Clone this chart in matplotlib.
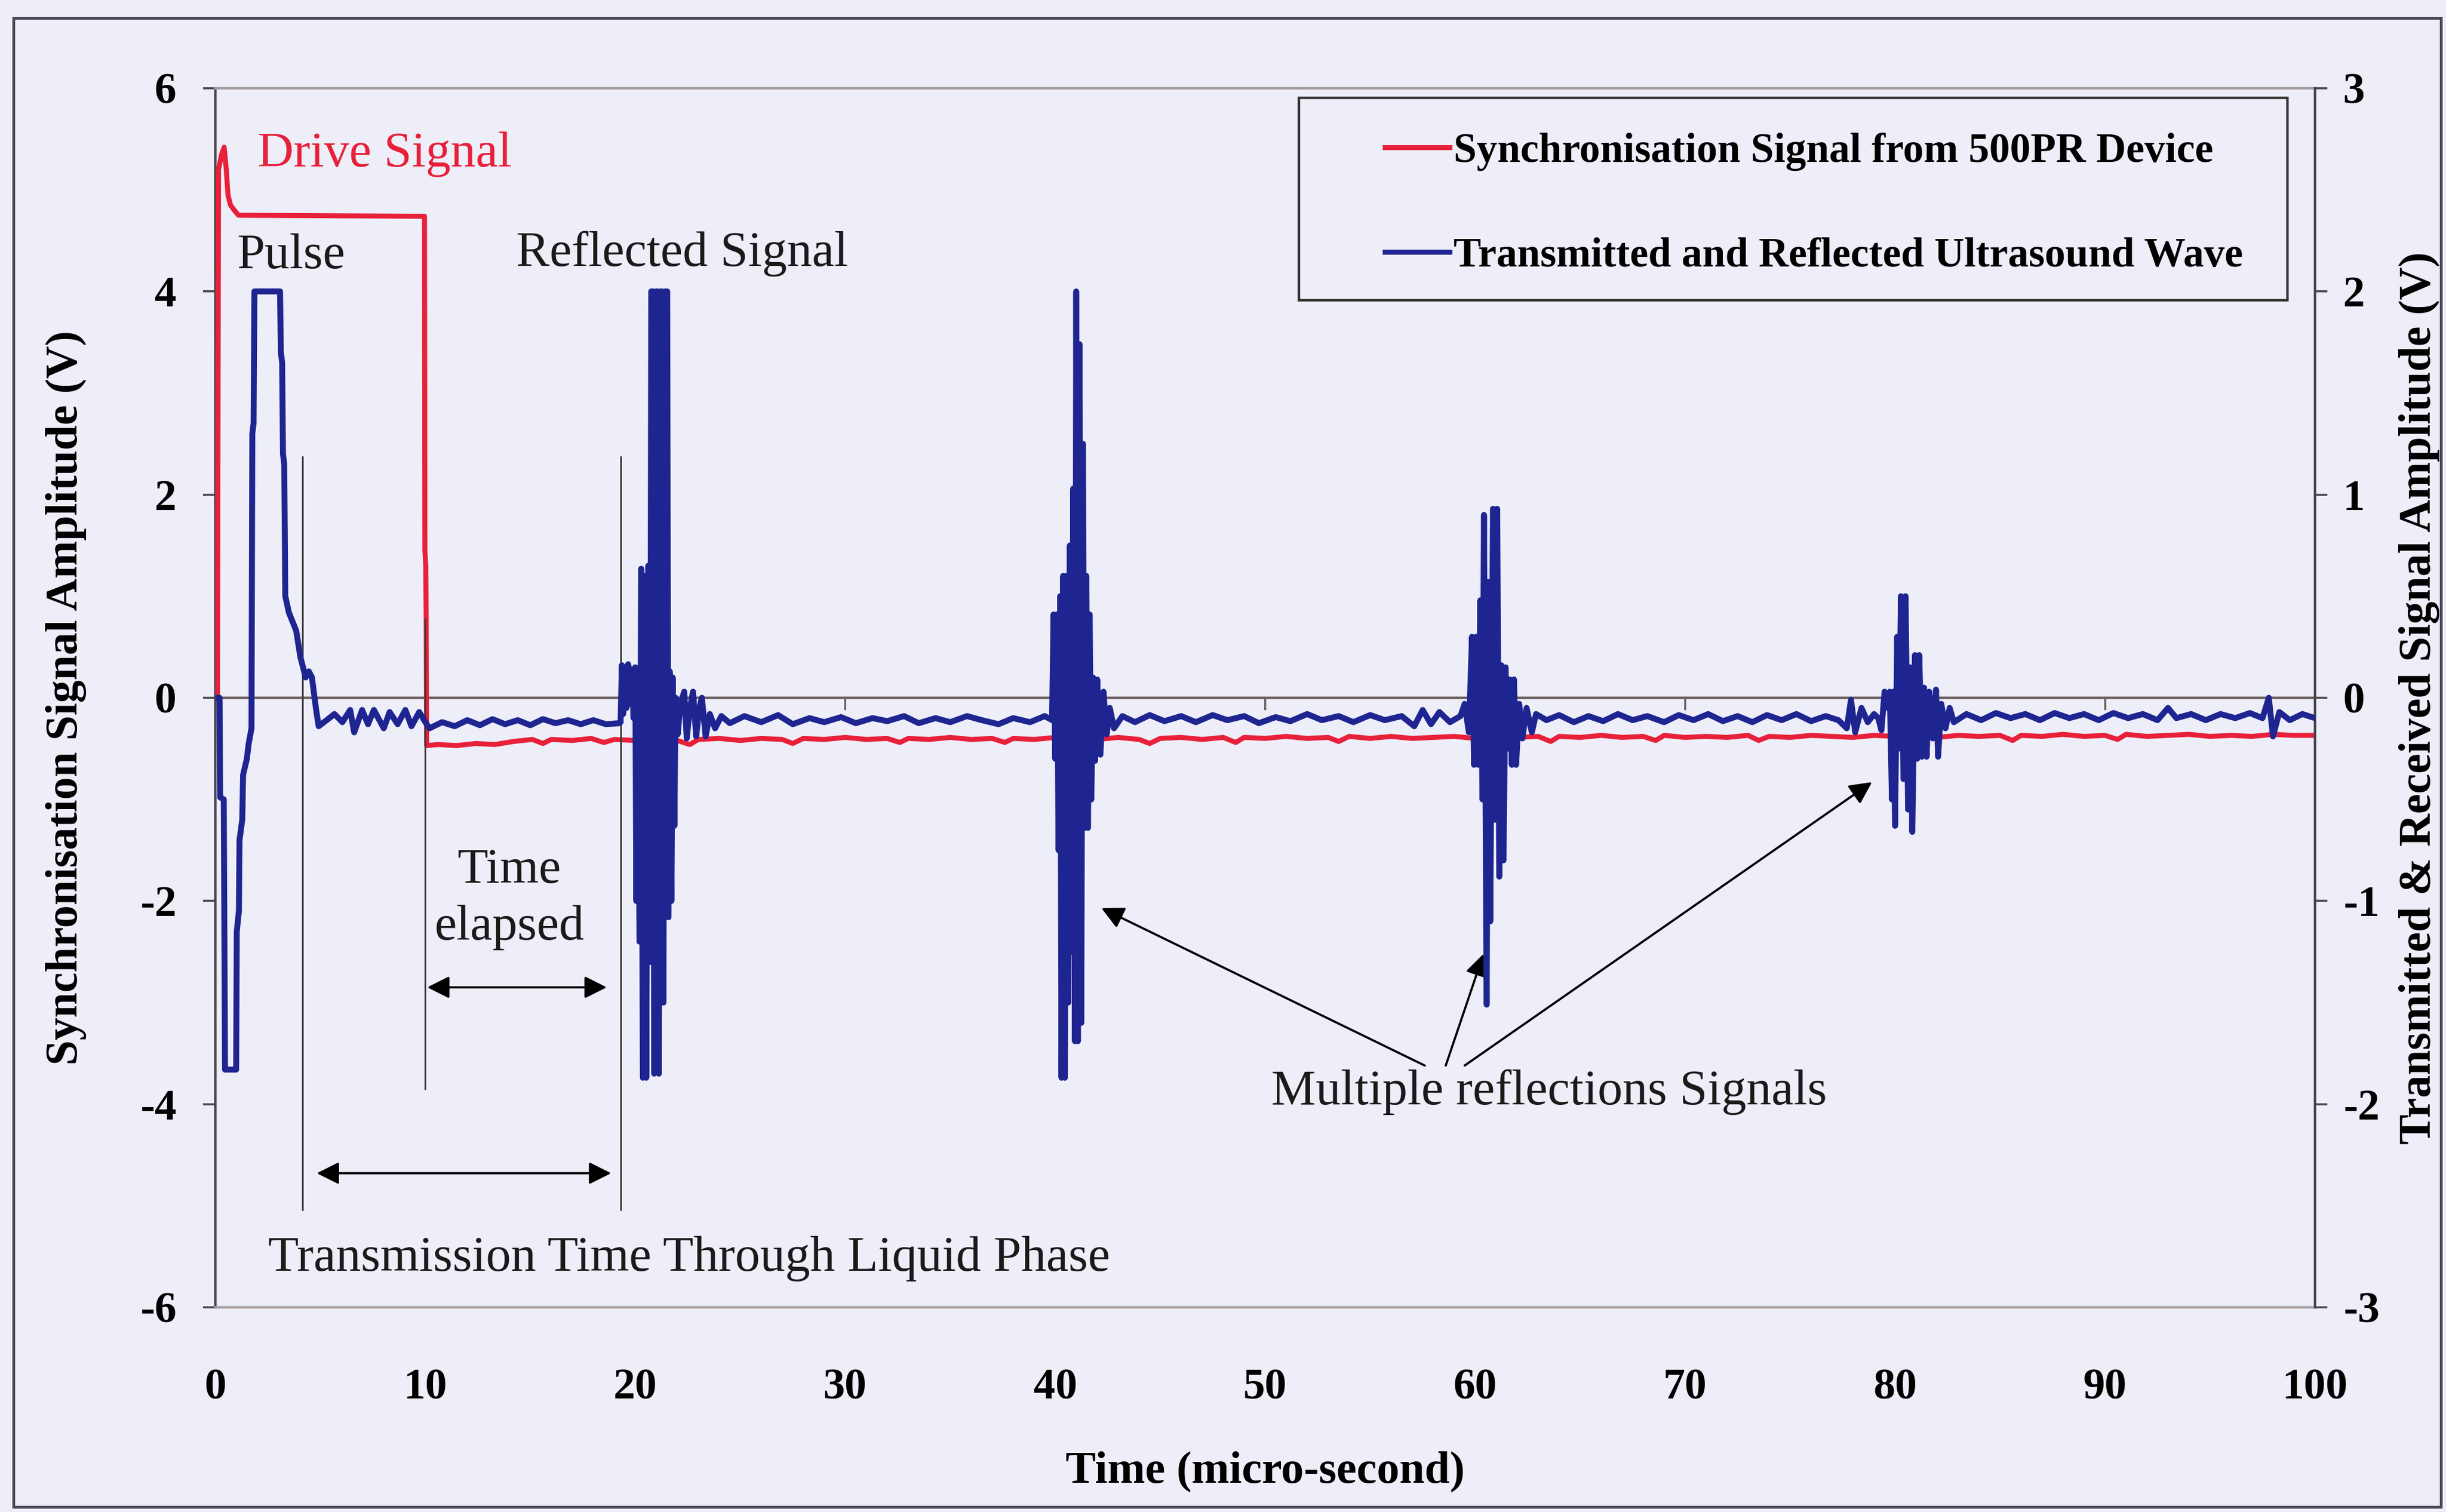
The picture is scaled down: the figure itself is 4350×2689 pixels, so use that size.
import numpy as np
import matplotlib
matplotlib.use("Agg")
import matplotlib.pyplot as plt
from matplotlib.patches import Rectangle
from matplotlib.lines import Line2D

plt.rcParams['font.family'] = ['Liberation Serif', 'DejaVu Serif']
plt.rcParams['axes.unicode_minus'] = False

BG = '#EDEEF8'
RED = '#E8203A'
NAVY = '#1F2590'
DARK = '#4A4650'
GREY = '#A89E9E'
ZERO = '#6E5F5F'

# ---------------- axes ----------------
x_ticks = [0, 10, 20, 30, 40, 50, 60, 70, 80, 90, 100]
x_tick_labels = ['0', '10', '20', '30', '40', '50', '60', '70', '80', '90', '100']
left_ticks = [-6, -4, -2, 0, 2, 4, 6]
left_tick_labels = ['-6', '-4', '-2', '0', '2', '4', '6']
right_ticks = [-3, -2, -1, 0, 1, 2, 3]
right_tick_labels = ['-3', '-2', '-1', '0', '1', '2', '3']

# ---------------- synchronisation signal (V, left axis) ----------------
sync_t = [0.0, 0.10, 0.15, 0.30, 0.42, 0.52, 0.60, 0.72, 0.90, 1.10, 9.96, 9.98, 10.02, 10.04, 10.06,
          10.6, 11.5, 12.4, 13.3, 14.2, 15.1, 15.6, 16.0, 17.0, 17.9, 18.5, 19.0, 20.0, 21.0, 22.0,
          22.6, 23.0, 24.0, 25.0, 26.0, 27.0, 27.5, 28.0, 29.0, 30.0, 31.0, 32.0, 32.6, 33.0, 34.0,
          35.0, 36.0, 37.0, 37.6, 38.0, 39.0, 40.0, 41.0, 42.0, 43.0, 44.0, 44.5, 45.0, 46.0, 47.0,
          48.0, 48.6, 49.0, 50.0, 51.0, 52.0, 53.0, 53.5, 54.0, 55.0, 56.0, 57.0, 58.0, 59.0, 60.0,
          61.0, 62.0, 63.0, 63.6, 64.0, 65.0, 66.0, 67.0, 68.0, 68.6, 69.0, 70.0, 71.0, 72.0, 73.0,
          73.5, 74.0, 75.0, 76.0, 77.0, 78.0, 79.0, 80.0, 81.0, 82.0, 83.0, 84.0, 85.0, 85.6, 86.0,
          87.0, 88.0, 89.0, 90.0, 90.6, 91.0, 92.0, 93.0, 94.0, 95.0, 96.0, 97.0, 98.0, 99.0, 100.0]
sync_v = [0.0, 0.0, 5.20, 5.35, 5.42, 5.20, 4.95, 4.85, 4.80, 4.75, 4.74, 1.45, 1.30, 0.80, -0.47,
          -0.46, -0.47, -0.45, -0.46, -0.43, -0.41, -0.45, -0.41, -0.42, -0.40, -0.44, -0.41, -0.42, -0.40, -0.42,
          -0.46, -0.41, -0.40, -0.42, -0.40, -0.41, -0.45, -0.40, -0.41, -0.39, -0.41, -0.40, -0.44, -0.40, -0.41,
          -0.39, -0.41, -0.40, -0.44, -0.40, -0.41, -0.39, -0.40, -0.41, -0.39, -0.41, -0.45, -0.40, -0.39, -0.41,
          -0.39, -0.44, -0.39, -0.40, -0.38, -0.40, -0.39, -0.43, -0.38, -0.40, -0.38, -0.40, -0.39, -0.38, -0.40,
          -0.38, -0.39, -0.38, -0.43, -0.38, -0.39, -0.37, -0.39, -0.38, -0.42, -0.37, -0.39, -0.38, -0.39, -0.37,
          -0.42, -0.38, -0.39, -0.37, -0.38, -0.39, -0.37, -0.38, -0.37, -0.39, -0.37, -0.38, -0.37, -0.42, -0.37,
          -0.38, -0.36, -0.38, -0.37, -0.41, -0.36, -0.38, -0.37, -0.36, -0.38, -0.37, -0.38, -0.36, -0.37, -0.37]

# ---------------- ultrasound trace (V, right axis) ----------------
excitation_t = [0.00, 0.20, 0.23, 0.40, 0.46, 0.99, 1.02, 1.12, 1.15, 1.28, 1.32, 1.50, 1.58, 1.72,
                1.76, 1.82, 1.86, 3.08, 3.12, 3.18, 3.22, 3.28, 3.33, 3.50, 3.85, 4.05, 4.30, 4.45,
                4.60, 4.80, 4.92, 5.30, 5.67, 6.05, 6.42, 6.61, 6.99, 7.27, 7.55, 8.02, 8.30, 8.68,
                9.05, 9.34, 9.71, 10.00]
excitation_v = [0.0, 0.0, -0.49, -0.50, -1.83, -1.83, -1.15, -1.05, -0.70, -0.60, -0.38, -0.30, -0.23, -0.15,
                1.30, 1.35, 2.00, 2.00, 1.70, 1.65, 1.20, 1.15, 0.50, 0.42, 0.33, 0.20, 0.10, 0.13,
                0.10, -0.06, -0.14, -0.11, -0.08, -0.12, -0.06, -0.17, -0.06, -0.13, -0.06, -0.15, -0.07, -0.13,
                -0.06, -0.14, -0.07, -0.12]

quiet_a_t = [10.20, 10.80, 11.40, 12.00, 12.60, 13.20, 13.80, 14.40, 15.00, 15.60, 16.20, 16.80,
             17.40, 18.00, 18.60, 19.25]
quiet_a_v = [-0.15, -0.12, -0.14, -0.11, -0.135, -0.105, -0.13, -0.11, -0.135, -0.105, -0.125, -0.11,
             -0.13, -0.11, -0.13, -0.125]

echo1_t = [19.30, 19.36, 19.42, 19.50, 19.58, 19.66, 19.74, 19.82, 19.92, 20.00, 20.05, 20.12, 20.20,
           20.28, 20.36, 20.44, 20.52, 20.62, 20.70, 20.76, 20.84, 20.90, 20.98, 21.06, 21.12, 21.20,
           21.28, 21.34, 21.42, 21.52, 21.58, 21.64, 21.72, 21.78, 21.86, 21.92, 22.02, 22.15, 22.33,
           22.45, 22.60, 22.75, 22.90, 23.05, 23.17, 23.35, 23.55, 23.80, 24.10]
echo1_v = [-0.12, 0.16, -0.08, 0.15, -0.05, 0.165, -0.03, 0.14, -0.10, 0.15, -1.00, 0.12, -1.20,
           0.635, -1.87, 0.60, -1.87, 0.65, -1.30, 2.00, 2.00, -1.85, 2.00, 2.00, -1.85, 2.00,
           2.00, -1.50, 2.00, 2.00, -1.08, 0.13, -1.00, 0.10, -0.63, 0.00, -0.18, -0.03, 0.03,
           -0.20, -0.05, 0.03, -0.19, -0.05, 0.00, -0.19, -0.08, -0.15, -0.09]

quiet_b_t = [24.50, 25.20, 26.00, 26.80, 27.50, 28.30, 29.00, 29.80, 30.50, 31.30, 32.00, 32.80,
             33.50, 34.30, 35.00, 35.80, 36.50, 37.30, 38.00, 38.80, 39.50, 39.85]
quiet_b_v = [-0.125, -0.09, -0.12, -0.085, -0.13, -0.10, -0.12, -0.095, -0.125, -0.10, -0.115, -0.09,
             -0.125, -0.10, -0.12, -0.09, -0.11, -0.13, -0.10, -0.12, -0.09, -0.11]

echo2_t = [39.92, 40.00, 40.08, 40.16, 40.24, 40.30, 40.38, 40.46, 40.54, 40.62, 40.70, 40.78,
           40.86, 40.94, 41.00, 41.08, 41.16, 41.24, 41.32, 41.40, 41.48, 41.56, 41.64, 41.72,
           41.80, 41.90, 42.00, 42.15, 42.30, 42.45, 42.60, 42.80]
echo2_v = [0.41, -0.30, 0.41, -0.75, 0.50, -1.87, 0.60, -1.87, 0.60, -1.50, 0.75, -1.25,
           1.03, -1.69, 2.00, -1.69, 1.74, -1.60, 1.25, -0.64, 0.60, -0.64, 0.41, -0.50,
           0.10, -0.31, 0.09, -0.28, 0.03, -0.18, -0.05, -0.15]

quiet_c_t = [43.20, 43.80, 44.50, 45.20, 46.00, 46.70, 47.50, 48.20, 49.00, 49.70, 50.50, 51.20,
             52.00, 52.70, 53.50, 54.20, 55.00, 55.70, 56.50, 57.10, 57.50, 57.90, 58.30, 58.80, 59.30]
quiet_c_v = [-0.09, -0.12, -0.085, -0.115, -0.09, -0.12, -0.085, -0.11, -0.09, -0.125, -0.095, -0.115,
             -0.08, -0.11, -0.09, -0.12, -0.085, -0.11, -0.09, -0.14, -0.06, -0.13, -0.07, -0.12, -0.09]

echo3_t = [59.50, 59.70, 59.85, 59.95, 60.05, 60.15, 60.25, 60.35, 60.42, 60.55, 60.62, 60.72,
           60.85, 60.95, 61.05, 61.15, 61.25, 61.35, 61.45, 61.55, 61.65, 61.75, 61.85, 61.95,
           62.10, 62.25, 62.45, 62.70, 62.90]
echo3_v = [-0.03, -0.17, 0.30, -0.33, 0.30, -0.33, 0.48, -0.50, 0.90, -1.51, 0.57, -1.10,
           0.93, -0.60, 0.93, -0.88, 0.16, -0.80, 0.15, -0.25, 0.09, -0.33, 0.09, -0.33,
           -0.03, -0.20, -0.05, -0.17, -0.08]

quiet_d_t = [63.40, 64.00, 64.70, 65.40, 66.10, 66.80, 67.50, 68.20, 69.00, 69.70, 70.40, 71.10,
             71.80, 72.50, 73.20, 73.90, 74.60, 75.30, 76.00, 76.70, 77.30, 77.70, 77.90, 78.10,
             78.40, 78.70, 79.00]
quiet_d_v = [-0.11, -0.085, -0.12, -0.09, -0.115, -0.08, -0.11, -0.09, -0.12, -0.085, -0.11, -0.08,
             -0.115, -0.09, -0.12, -0.085, -0.11, -0.08, -0.115, -0.09, -0.11, -0.15, -0.01, -0.17,
             -0.05, -0.12, -0.08]

echo4_t = [79.20, 79.35, 79.50, 79.65, 79.75, 79.85, 79.92, 80.00, 80.10, 80.18, 80.28, 80.40,
           80.50, 80.62, 80.72, 80.82, 80.95, 81.05, 81.15, 81.28, 81.38, 81.50, 81.62, 81.80,
           81.95, 82.05, 82.20, 82.40, 82.60, 82.80]
echo4_v = [-0.10, -0.16, 0.03, -0.05, 0.03, -0.50, 0.03, -0.63, 0.30, -0.25, 0.50, -0.40,
           0.50, -0.55, 0.15, -0.66, 0.21, -0.30, 0.21, -0.29, 0.05, -0.29, 0.03, -0.20,
           0.04, -0.29, -0.03, -0.15, -0.05, -0.12]

quiet_e_t = [83.40, 84.10, 84.80, 85.50, 86.20, 86.90, 87.60, 88.30, 89.00, 89.70, 90.40, 91.10,
             91.80, 92.50, 93.00, 93.40, 94.10, 94.80, 95.50, 96.20, 96.90, 97.50, 97.80, 98.00,
             98.30, 98.80, 99.40, 100.00]
quiet_e_v = [-0.08, -0.11, -0.075, -0.10, -0.08, -0.11, -0.075, -0.10, -0.08, -0.11, -0.075, -0.10,
             -0.08, -0.11, -0.05, -0.10, -0.08, -0.11, -0.08, -0.10, -0.075, -0.10, 0.0, -0.19,
             -0.07, -0.11, -0.08, -0.10]

wave_t = np.concatenate([excitation_t, quiet_a_t, echo1_t, quiet_b_t, echo2_t,
                         quiet_c_t, echo3_t, quiet_d_t, echo4_t, quiet_e_t])
wave_v = np.concatenate([excitation_v, quiet_a_v, echo1_v, quiet_b_v, echo2_v,
                         quiet_c_v, echo3_v, quiet_d_v, echo4_v, quiet_e_v])

# ---------------- figure ----------------
fig = plt.figure(figsize=(21.75, 13.445), dpi=200, facecolor=BG)
ax = fig.add_axes([0.08805, 0.13537, 0.85839, 0.80625])
ax.set_facecolor(BG)
ax.set_xlim(0, 100)
ax.set_ylim(-6, 6)

ax2 = ax.twinx()
ax2.set_ylim(-3, 3)

ax.plot(sync_t, sync_v, color=RED, lw=3.2, zorder=3)
ax2.plot(wave_t, wave_v, color=NAVY, lw=3.8, zorder=3)

# spines
for s in ('top', 'bottom'):
    ax.spines[s].set_color(GREY)
    ax.spines[s].set_linewidth(1.6)
ax.spines['left'].set_color(DARK)
ax.spines['left'].set_linewidth(1.6)
ax.spines['right'].set_visible(False)
for s in ('top', 'bottom', 'left'):
    ax2.spines[s].set_visible(False)
ax2.spines['right'].set_color(DARK)
ax2.spines['right'].set_linewidth(1.6)

# ticks
ax.set_xticks(x_ticks)
ax.set_xticklabels(x_tick_labels, fontweight='bold')
ax.set_yticks(left_ticks)
ax.set_yticklabels(left_tick_labels, fontweight='bold')
ax.tick_params(axis='x', length=0, pad=39, labelsize=28)
ax.tick_params(axis='y', direction='out', length=8, width=1.3, pad=17,
               labelsize=28, color=DARK)
ax2.set_yticks(right_ticks)
ax2.set_yticklabels(right_tick_labels, fontweight='bold')
ax2.tick_params(axis='y', direction='out', length=8, width=1.3, pad=10,
                labelsize=28, color=DARK)

# horizontal axis crossing at zero
sec = ax.secondary_xaxis(0.5)
sec.set_alignment('bottom')
sec.set_xticks(x_ticks)
sec.tick_params(direction='out', length=8, width=1.3, labelbottom=False,
                labeltop=False, color=ZERO)
for s in ('top', 'bottom'):
    sec.spines[s].set_color(ZERO)
    sec.spines[s].set_linewidth(1.6)

# axis titles
ax.set_xlabel('Time (micro-second)', fontsize=29, fontweight='bold')
ax.xaxis.set_label_coords(0.5, -0.135)
ax.xaxis.label.set_va('center')
ax.set_ylabel('Synchronisation Signal Amplitude (V)', fontsize=29, fontweight='bold')
ax.yaxis.set_label_coords(-0.0712, 0.5)
ax.yaxis.label.set_va('center')
ax2.set_ylabel('Transmitted & Received Signal Amplitude (V)', fontsize=29, fontweight='bold')
ax2.yaxis.set_label_coords(1.0496, 0.5)
ax2.yaxis.label.set_va('center')

# annotation guides
guide_t = [4.15, 10.0, 19.3]
guide_top = [2.38, 0.78, 2.38]
guide_bottom = [-5.05, -3.86, -5.05]
ax.vlines(guide_t, guide_bottom, guide_top, color='#3A3A3A', lw=1.1, zorder=4)

arrow_kw = dict(arrowstyle='<|-|>', color='black', lw=1.4, mutation_scale=30,
                shrinkA=0, shrinkB=0)
ax.annotate('', xy=(18.64, -2.85), xytext=(10.09, -2.85), arrowprops=arrow_kw, zorder=5)
ax.annotate('', xy=(18.85, -4.68), xytext=(4.83, -4.68), arrowprops=arrow_kw, zorder=5)

one_head = dict(arrowstyle='-|>', color='black', lw=1.4, mutation_scale=30,
                shrinkA=0, shrinkB=0)
ax.annotate('', xy=(42.2, -2.07), xytext=(57.6, -3.62), arrowprops=one_head, zorder=5)
ax.annotate('', xy=(60.4, -2.52), xytext=(58.6, -3.62), arrowprops=one_head, zorder=5)
ax.annotate('', xy=(78.9, -0.83), xytext=(59.5, -3.62), arrowprops=one_head, zorder=5)

txt = dict(fontsize=32, color='#1A1A1A', va='center', ha='left', zorder=6)
ax.text(2.0, 5.35, 'Drive Signal', **{**txt, 'color': RED})
ax.text(1.04, 4.35, 'Pulse', **txt)
ax.text(14.34, 4.37, 'Reflected Signal', **txt)
ax.text(14.0, -1.98, 'Time\nelapsed', fontsize=32, color='#1A1A1A', va='center',
        ha='center', multialignment='center', linespacing=1.32, zorder=6)
ax.text(2.53, -5.52, 'Transmission Time Through Liquid Phase', **txt)
ax.text(50.3, -3.88, 'Multiple reflections Signals', **txt)

# legend
ax2.add_patch(Rectangle((0.516, 0.826), 0.471, 0.166, transform=ax2.transAxes,
                        facecolor=BG, edgecolor='#333333', lw=1.6, zorder=7))
handles = [Line2D([], [], color=RED, lw=3.2), Line2D([], [], color=NAVY, lw=3.2)]
labels = ['Synchronisation Signal from 500PR Device', 'Transmitted and Reflected Ultrasound Wave']
leg = ax2.legend(handles, labels, loc='center left', bbox_to_anchor=(0.557, 0.905),
                 bbox_transform=ax2.transAxes, frameon=False, borderpad=0,
                 borderaxespad=0, handlelength=1.56, handletextpad=0.1,
                 labelspacing=1.6, prop={'family': 'Liberation Serif',
                                         'weight': 'bold', 'size': 26.5})
leg.set_zorder(8)

# outer frame
fig.patches.append(Rectangle((0.0055, 0.0033), 0.9925, 0.9847, transform=fig.transFigure,
                             fill=False, edgecolor='#4B4658', lw=1.8))

fig.savefig('out.png', dpi=200, facecolor=BG)
